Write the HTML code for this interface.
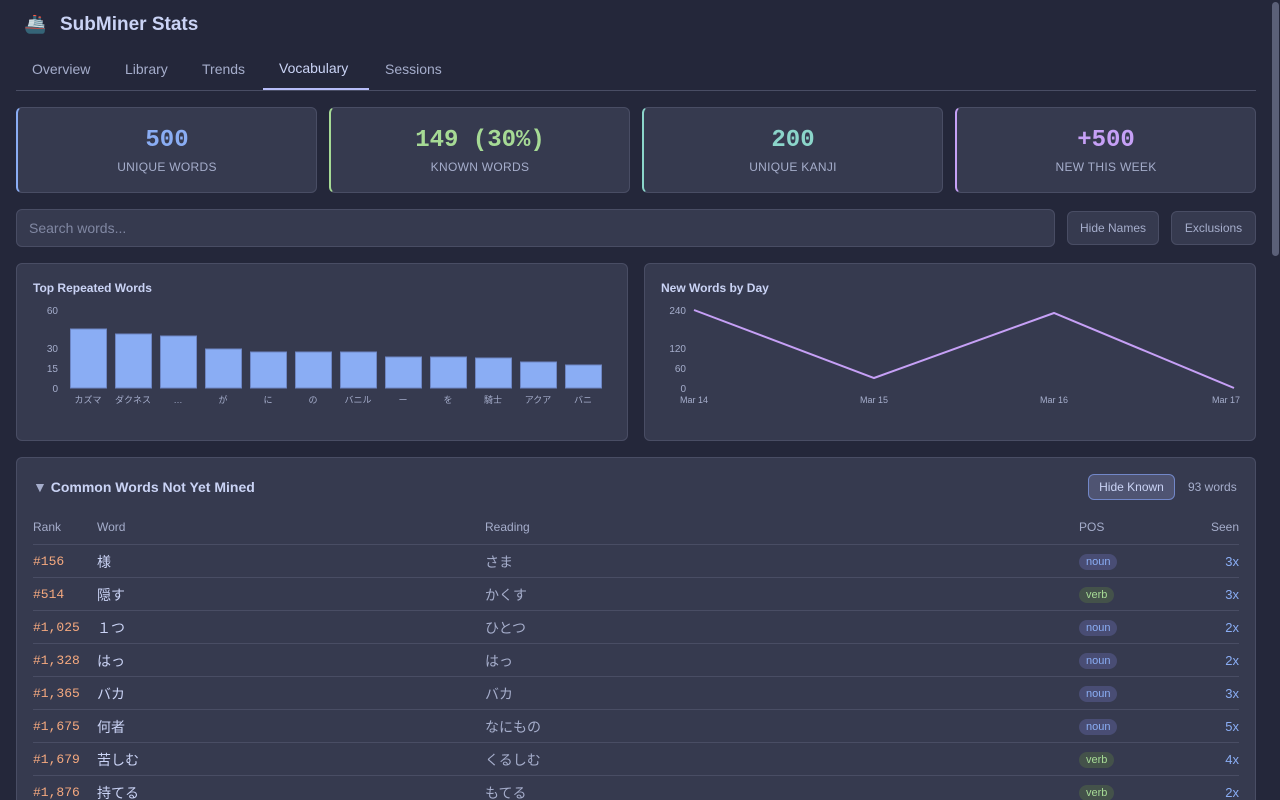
<!DOCTYPE html>
<html><head><meta charset="utf-8"><style>
*{box-sizing:border-box;margin:0;padding:0}
html{width:1280px;height:800px;overflow:hidden}
body{width:1280px;height:800px;overflow:hidden;background:#24273a;font-family:"Liberation Sans","Noto Sans CJK JP",sans-serif;color:#cad3f5;position:relative}
.abs{position:absolute}
.title{left:60px;top:14px;font-size:19px;font-weight:bold;color:#cad3f5}
.tab{top:61px;font-size:14px;color:#a5adcb}
.card{background:#363a4f;border:1px solid #494d64;border-radius:6px}
.stat{top:107px;width:301px;height:86px;text-align:center}
.stat .v{font-family:"Liberation Mono",monospace;font-weight:bold;font-size:24px;margin-top:19px}
.stat .l{font-size:12px;color:#a5adcb;margin-top:6px;letter-spacing:.3px}
.btn{background:#363a4f;border:1px solid #494d64;border-radius:6px;font-size:12px;color:#a5adcb;text-align:center;line-height:32px}
.row{left:33px;width:1206px;height:33px;border-top:1px solid #494d64;font-size:14px}
.row span{position:absolute;top:7px}
.row span.rk{top:9px}
.rk{left:0;font-family:"Liberation Mono",monospace;font-size:13px;color:#f5a97f}
.wd{left:64px;color:#cad3f5}
.rd{left:452px;color:#a5adcb}
.row span.pos{left:1046px;top:9px;font-size:11px;padding:2px 7px;border-radius:9px}
.noun{background:#494d74;color:#8aadf4}
.verb{background:#44524a;color:#a6da95}
.row span.sn{right:0;top:9px;color:#8aadf4;font-size:13px}
</style></head><body>
<div class="abs" style="left:24px;top:14px;font-size:18px">🚢</div>
<div class="abs title">SubMiner Stats</div>
<div class="abs tab" style="left:32px">Overview</div>
<div class="abs tab" style="left:125px">Library</div>
<div class="abs tab" style="left:202px">Trends</div>
<div class="abs tab" style="left:279px;top:60px;color:#cad3f5">Vocabulary</div>
<div class="abs tab" style="left:385px">Sessions</div>
<div class="abs" style="left:16px;top:90px;width:1240px;height:1px;background:#494d64"></div>
<div class="abs" style="left:263px;top:88px;width:106px;height:2px;background:#b7bdf8"></div>

<div class="abs card stat" style="left:16px;border-left:2px solid #8aadf4"><div class="v" style="color:#8aadf4">500</div><div class="l">UNIQUE WORDS</div></div>
<div class="abs card stat" style="left:329px;border-left:2px solid #a6da95"><div class="v" style="color:#a6da95">149 (30%)</div><div class="l">KNOWN WORDS</div></div>
<div class="abs card stat" style="left:642px;border-left:2px solid #8bd5ca"><div class="v" style="color:#8bd5ca">200</div><div class="l">UNIQUE KANJI</div></div>
<div class="abs card stat" style="left:955px;border-left:2px solid #c6a0f6"><div class="v" style="color:#c6a0f6">+500</div><div class="l">NEW THIS WEEK</div></div>

<div class="abs card" style="left:16px;top:209px;width:1039px;height:38px;font-size:14px;color:#8087a2;padding:10px 12px">Search words...</div>
<div class="abs btn" style="left:1067px;top:211px;width:92px;height:34px">Hide Names</div>
<div class="abs btn" style="left:1171px;top:211px;width:85px;height:34px">Exclusions</div>

<div class="abs card" style="left:16px;top:263px;width:612px;height:178px"></div>
<div class="abs card" style="left:644px;top:263px;width:612px;height:178px"></div>
<svg class="abs" style="left:0;top:0" width="1280" height="460" font-family="Liberation Sans,Noto Sans CJK JP,sans-serif">
<text x="33" y="292" font-size="12" font-weight="bold" fill="#cad3f5">Top Repeated Words</text>
<g font-size="10" fill="#a5adcb" text-anchor="end"><text x="58" y="314">60</text><text x="58" y="352">30</text><text x="58" y="372">15</text><text x="58" y="392">0</text></g>
<g fill="#8aadf4" stroke="#6e86c4" stroke-width="1">
<rect x="70.5" y="329" width="36" height="59"/><rect x="115.5" y="334" width="36" height="54"/><rect x="160.5" y="336" width="36" height="52"/><rect x="205.5" y="349" width="36" height="39"/><rect x="250.5" y="352" width="36" height="36"/><rect x="295.5" y="352" width="36" height="36"/><rect x="340.5" y="352" width="36" height="36"/><rect x="385.5" y="357" width="36" height="31"/><rect x="430.5" y="357" width="36" height="31"/><rect x="475.5" y="358" width="36" height="30"/><rect x="520.5" y="362" width="36" height="26"/><rect x="565.5" y="365" width="36" height="23"/></g>
<g font-size="9" fill="#a5adcb" text-anchor="middle"><text x="88" y="403">カズマ</text><text x="133" y="403">ダクネス</text><text x="178" y="403">…</text><text x="223" y="403">が</text><text x="268" y="403">に</text><text x="313" y="403">の</text><text x="358" y="403">バニル</text><text x="403" y="403">ー</text><text x="448" y="403">を</text><text x="493" y="403">騎士</text><text x="538" y="403">アクア</text><text x="583" y="403">バニ</text></g>
<text x="661" y="292" font-size="12" font-weight="bold" fill="#cad3f5">New Words by Day</text>
<g font-size="10" fill="#a5adcb" text-anchor="end"><text x="686" y="314">240</text><text x="686" y="352">120</text><text x="686" y="372">60</text><text x="686" y="392">0</text></g>
<polyline points="694,310 874,378 1054,313 1234,388" fill="none" stroke="#c6a0f6" stroke-width="2"/>
<g font-size="9" fill="#a5adcb" text-anchor="middle"><text x="694" y="403">Mar 14</text><text x="874" y="403">Mar 15</text><text x="1054" y="403">Mar 16</text><text x="1226" y="403">Mar 17</text></g>
</svg>

<div class="abs card" style="left:16px;top:457px;width:1240px;height:343px;border-bottom:none;border-radius:6px 6px 0 0"></div>
<div class="abs" style="left:33px;top:479px;font-size:14px;font-weight:bold;color:#cad3f5"><span style="color:#a5adcb">▼</span> Common Words Not Yet Mined</div>
<div class="abs" style="left:1088px;top:474px;width:87px;height:26px;border:1px solid #7287c8;background:#4f5472;border-radius:6px;font-size:12px;color:#cad3f5;text-align:center;line-height:24px">Hide Known</div>
<div class="abs" style="left:1188px;top:480px;font-size:12px;color:#a5adcb">93 words</div>
<div class="abs" style="left:33px;top:520px;width:1206px;font-size:12px;color:#a5adcb">
<span class="abs" style="left:0">Rank</span><span class="abs" style="left:64px">Word</span><span class="abs" style="left:452px">Reading</span><span class="abs" style="left:1046px">POS</span><span class="abs" style="right:0">Seen</span></div>
<div class="abs row" style="top:544px"><span class="rk">#156</span><span class="wd">様</span><span class="rd">さま</span><span class="pos noun">noun</span><span class="sn">3x</span></div>
<div class="abs row" style="top:577px"><span class="rk">#514</span><span class="wd">隠す</span><span class="rd">かくす</span><span class="pos verb">verb</span><span class="sn">3x</span></div>
<div class="abs row" style="top:610px"><span class="rk">#1,025</span><span class="wd">１つ</span><span class="rd">ひとつ</span><span class="pos noun">noun</span><span class="sn">2x</span></div>
<div class="abs row" style="top:643px"><span class="rk">#1,328</span><span class="wd">はっ</span><span class="rd">はっ</span><span class="pos noun">noun</span><span class="sn">2x</span></div>
<div class="abs row" style="top:676px"><span class="rk">#1,365</span><span class="wd">バカ</span><span class="rd">バカ</span><span class="pos noun">noun</span><span class="sn">3x</span></div>
<div class="abs row" style="top:709px"><span class="rk">#1,675</span><span class="wd">何者</span><span class="rd">なにもの</span><span class="pos noun">noun</span><span class="sn">5x</span></div>
<div class="abs row" style="top:742px"><span class="rk">#1,679</span><span class="wd">苦しむ</span><span class="rd">くるしむ</span><span class="pos verb">verb</span><span class="sn">4x</span></div>
<div class="abs row" style="top:775px;height:25px;overflow:hidden"><span class="rk">#1,876</span><span class="wd">持てる</span><span class="rd">もてる</span><span class="pos verb">verb</span><span class="sn">2x</span></div>
<div class="abs" style="left:1270px;top:0;width:10px;height:800px;background:#24273a"></div>
<div class="abs" style="left:1272px;top:2px;width:7px;height:254px;background:#5b6078;border-radius:4px"></div>
</body></html>
